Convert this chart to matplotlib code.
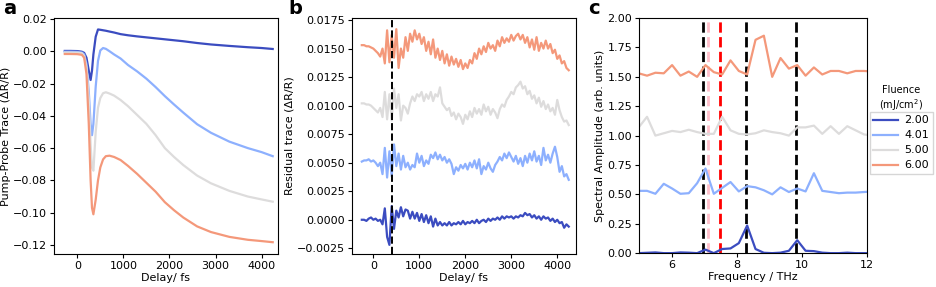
import numpy as np
import matplotlib
matplotlib.use("Agg")
import matplotlib.pyplot as plt

# fluence values and colours (coolwarm)
fluences = ["2.00", "4.01", "5.00", "6.00"]
colors = [plt.cm.coolwarm(v) for v in (0.0, 0.25, 0.5, 0.75)]

# --- panel a: pump-probe traces
delay_a = [-270, -150, 0, 100, 150, 200, 250, 290, 320, 350, 400, 450, 500, 560, 620,
           700, 800, 940, 1100, 1300, 1500, 1700, 1900, 2100, 2300, 2600, 2900, 3300,
           3700, 4000, 4240]
trace_200 = [0.0002, 0.0002, 0.0001, -0.0003, -0.001, -0.004, -0.012, -0.0178, -0.012, -0.002,
             0.009, 0.0135, 0.0133, 0.013, 0.0127, 0.0122, 0.0116, 0.0106, 0.0099, 0.0092,
             0.0086, 0.0080, 0.0074, 0.0068, 0.0062, 0.0051, 0.0042, 0.0033, 0.0025, 0.0020,
             0.0014]
trace_401 = [-0.0003, -0.0003, -0.0004, -0.0008, -0.002, -0.008, -0.025, -0.045, -0.052, -0.045,
             -0.022, -0.006, 0.0005, 0.0020, 0.0015, 0.0000, -0.0020, -0.0045, -0.0085, -0.0125,
             -0.0170, -0.0222, -0.0278, -0.0330, -0.0380, -0.0452, -0.0505, -0.0560, -0.0600,
             -0.0625, -0.0650]
trace_500 = [-0.0008, -0.0008, -0.0009, -0.0012, -0.003, -0.010, -0.030, -0.058, -0.072, -0.074,
             -0.050, -0.035, -0.029, -0.026, -0.0254, -0.0262, -0.0275, -0.0302, -0.0340, -0.0395,
             -0.0450, -0.0520, -0.0600, -0.0655, -0.0705, -0.0770, -0.0818, -0.0865, -0.0900,
             -0.0918, -0.0932]
trace_600 = [-0.0017, -0.0017, -0.0018, -0.0022, -0.004, -0.014, -0.045, -0.080, -0.097, -0.101,
             -0.092, -0.080, -0.072, -0.067, -0.065, -0.0647, -0.0655, -0.0674, -0.0710, -0.0760,
             -0.0815, -0.0870, -0.0935, -0.0985, -0.1030, -0.1085, -0.1120, -0.1150, -0.1168,
             -0.1176, -0.1183]

# --- panel b: residuals (offset), 50 fs steps
delay_b = np.arange(-250, 4251, 50)
resid_200 = [.0000, .0000, -.0001, .0001, .0002, .0000, .0001, -.0001, .0000, -.0004,
             .0010, -.0015, -.0022, .0012, -.0008, .0008, .0002, .0011, .0003, .0009,
             .0008, .0001, .0007, .0001, .0006, -.0001, .0005, -.0002, .0004, -.0003,
             .0003, -.0006, .0001, -.0005, -.0002, -.0005, -.0003, -.0005, -.0002, -.0005,
             -.0003, -.0004, -.0002, -.0004, -.0001, -.0004, -.0002, -.0003, -.0001, -.0003,
             .0000, -.0003, -.0001, .0000, -.0002, .0001, -.0001, .0001, .0000, .0002,
             .0000, .0003, .0001, .0003, .0002, .0003, .0001, .0003, .0002, .0004,
             .0003, .0006, .0004, .0005, .0002, .0004, .0001, .0003, .0000, .0003,
             .0001, .0002, -.0001, .0001, -.0002, .0000, -.0003, -.0002, -.0007, -.0004,
             -.0006]
resid_401 = [.0051, .0052, .0052, .0053, .0051, .0052, .0050, .0047, .0050, .0040,
             .0063, .0037, .0060, .0038, .0066, .0047, .0058, .0044, .0056, .0046,
             .0050, .0044, .0048, .0046, .0058, .0050, .0056, .0047, .0052, .0049,
             .0057, .0054, .0059, .0053, .0057, .0052, .0055, .0050, .0053, .0049,
             .0040, .0046, .0043, .0048, .0045, .0049, .0044, .0050, .0046, .0052,
             .0045, .0053, .0040, .0047, .0044, .0050, .0045, .0042, .0048, .0051,
             .0055, .0052, .0058, .0054, .0059, .0055, .0051, .0056, .0049, .0054,
             .0047, .0056, .0050, .0058, .0052, .0060, .0051, .0056, .0048, .0063,
             .0052, .0057, .0050, .0058, .0064, .0055, .0042, .0047, .0038, .0040,
             .0035]
resid_500 = [.0102, .0102, .0101, .0101, .0100, .0098, .0096, .0094, .0098, .0090,
             .0112, .0088, .0110, .0087, .0115, .0098, .0110, .0087, .0100, .0098,
             .0093, .0102, .0108, .0104, .0110, .0108, .0112, .0104, .0110, .0106,
             .0112, .0104, .0110, .0108, .0116, .0102, .0099, .0096, .0098, .0091,
             .0094, .0088, .0093, .0090, .0084, .0092, .0088, .0095, .0090, .0098,
             .0093, .0097, .0092, .0101, .0095, .0099, .0092, .0097, .0094, .0089,
             .0097, .0101, .0099, .0105, .0108, .0112, .0110, .0116, .0118, .0121,
             .0115, .0117, .0110, .0113, .0106, .0109, .0102, .0107, .0099, .0104,
             .0097, .0101, .0095, .0098, .0092, .0105, .0096, .0090, .0086, .0087,
             .0083]
resid_600 = [.0153, .0153, .0152, .0152, .0151, .0150, .0148, .0146, .0143, .0150,
             .0137, .0166, .0138, .0162, .0142, .0167, .0133, .0150, .0142, .0160,
             .0148, .0163, .0156, .0166, .0158, .0163, .0154, .0160, .0148, .0156,
             .0145, .0158, .0142, .0150, .0140, .0148, .0137, .0145, .0135, .0143,
             .0136, .0141, .0134, .0140, .0132, .0137, .0133, .0140, .0137, .0146,
             .0141, .0150, .0145, .0152, .0147, .0155, .0150, .0153, .0148, .0157,
             .0152, .0160, .0155, .0159, .0156, .0162, .0157, .0161, .0163, .0158,
             .0162, .0155, .0160, .0151, .0158, .0149, .0160, .0148, .0155, .0150,
             .0157, .0150, .0154, .0146, .0149, .0141, .0144, .0137, .0139, .0133,
             .0131]
time_zero = 400

# --- panel c: spectra (offset)
freq = np.round(4.99 + 0.2565 * np.arange(29), 3)
spec_200 = [0.0, 0.003, 0.006, 0.0, 0.0, 0.006, 0.004, 0.0, 0.03, 0.0, 0.035, 0.04, 0.085, 0.235,
            0.035, 0.003, 0.0, 0.004, 0.02, 0.11, 0.02, 0.017, 0.004, 0.0, 0.0, 0.004, 0.0, 0.0, 0.0]
spec_401 = [0.53, 0.53, 0.505, 0.59, 0.55, 0.505, 0.51, 0.595, 0.72, 0.505, 0.555, 0.605, 0.525,
            0.57, 0.56, 0.535, 0.50, 0.56, 0.52, 0.55, 0.525, 0.68, 0.53, 0.52, 0.51, 0.515,
            0.515, 0.52, 0.525]
spec_500 = [1.07, 1.16, 1.00, 1.02, 1.04, 1.03, 1.05, 1.03, 1.015, 1.015, 1.16, 1.045, 1.015,
            1.01, 1.02, 1.045, 1.03, 1.02, 1.00, 1.07, 1.07, 1.085, 1.015, 1.08, 1.015, 1.08,
            1.045, 1.01, 1.00]
spec_600 = [1.53, 1.51, 1.535, 1.53, 1.60, 1.51, 1.545, 1.50, 1.60, 1.54, 1.52, 1.64, 1.55,
            1.52, 1.815, 1.85, 1.50, 1.66, 1.57, 1.60, 1.51, 1.58, 1.52, 1.55, 1.55, 1.53,
            1.55, 1.55, 1.545]
black_lines = [6.97, 8.30, 9.83]
pink_line = 7.12
red_line = 7.50

fig = plt.figure(figsize=(9.37, 2.87), dpi=100)
ax1 = fig.add_axes([0.0576, 0.115, 0.2391, 0.8223])
ax2 = fig.add_axes([0.3753, 0.115, 0.2391, 0.8223])
ax3 = fig.add_axes([0.682, 0.118, 0.243, 0.819])

fs = 8

for tr, c in zip([trace_200, trace_401, trace_500, trace_600], colors):
    ax1.plot(delay_a, tr, color=c, lw=1.6)
ax1.set_xlim(-505, 4355)
ax1.set_ylim(-0.1256, 0.0206)
ax1.set_xticks([0, 1000, 2000, 3000, 4000])
ax1.set_yticks(np.arange(-0.12, 0.021, 0.02))
ax1.set_xlabel("Delay/ fs", fontsize=fs, labelpad=1.5)
ax1.set_ylabel("Pump-Probe Trace (ΔR/R)", fontsize=fs, labelpad=1.5)

for tr, c in zip([resid_200, resid_401, resid_500, resid_600], colors):
    ax2.plot(delay_b, tr, color=c, lw=1.6)
ax2.axvline(time_zero, color="black", ls="--", lw=1.4)
ax2.set_xlim(-471, 4401)
ax2.set_ylim(-0.0030, 0.01768)
ax2.set_xticks([0, 1000, 2000, 3000, 4000])
ax2.set_yticks(np.arange(-0.0025, 0.0176, 0.0025))
ax2.set_xlabel("Delay/ fs", fontsize=fs, labelpad=1.5)
ax2.set_ylabel("Residual trace (ΔR/R)", fontsize=fs, labelpad=1.5)

for x in black_lines:
    ax3.axvline(x, color="black", ls="--", lw=2)
ax3.axvline(pink_line, color="pink", ls="--", lw=2)
ax3.axvline(red_line, color="red", ls="--", lw=2)
lines = []
for sp, c, lab in zip([spec_200, spec_401, spec_500, spec_600], colors, fluences):
    ln, = ax3.plot(freq, sp, color=c, lw=1.6, label=lab)
    lines.append(ln)
ax3.set_xlim(5, 12)
ax3.set_ylim(0, 2)
ax3.set_xticks([6, 8, 10, 12])
ax3.set_yticks(np.arange(0, 2.01, 0.25))
ax3.set_xlabel("Frequency / THz", fontsize=fs, labelpad=1.5)
ax3.set_ylabel("Spectral Amplitude (arb. units)", fontsize=fs, labelpad=1.5)
ax3.legend(handles=lines, loc="upper left", bbox_to_anchor=(1.015, 0.60),
           borderaxespad=0, fontsize=8, handlelength=2.2, handletextpad=0.6,
           borderpad=0.3, labelspacing=0.45, fancybox=False)
fig.text(0.962, 0.655, "Fluence\n(mJ/cm$^2$)", ha="center", va="center", fontsize=7)

for ax in (ax1, ax2, ax3):
    ax.tick_params(labelsize=fs, length=3, pad=2)

fig.text(0.003, 0.97, "a", fontsize=14, fontweight="bold", va="center")
fig.text(0.308, 0.97, "b", fontsize=14, fontweight="bold", va="center")
fig.text(0.628, 0.97, "c", fontsize=14, fontweight="bold", va="center")

fig.savefig("out.png", dpi=100)
